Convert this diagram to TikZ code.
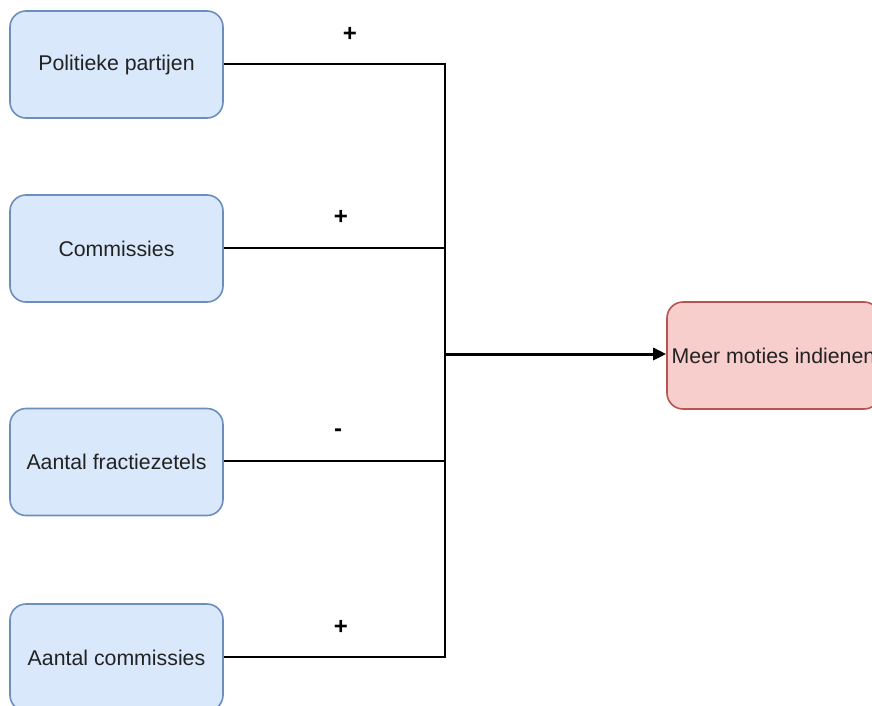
\documentclass[tikz,border=0pt]{standalone}
\usepackage{fontspec}
\setmainfont{Liberation Sans}
\usetikzlibrary{arrows.meta}
\definecolor{bluefill}{HTML}{DAE8FC}
\definecolor{bluedraw}{HTML}{6C8EBF}
\definecolor{redfill}{HTML}{F8CECC}
\definecolor{reddraw}{HTML}{B85450}
\definecolor{txt}{HTML}{222222}
\tikzset{
  srcbox/.style={draw=bluedraw, fill=bluefill, line width=1.6pt, rounded corners=16pt,
    minimum width=213pt, minimum height=107pt, inner sep=0pt, text=txt,
    font=\fontsize{21.3}{25}\selectfont},
  tgtbox/.style={draw=reddraw, fill=redfill, line width=1.6pt, rounded corners=16pt,
    minimum width=213pt, minimum height=107pt, inner sep=0pt, text=txt,
    font=\fontsize{21.3}{25}\selectfont},
  link/.style={line width=1.8pt, draw=black},
  sign/.style={font=\fontsize{24}{25}\selectfont\bfseries, inner sep=0pt, text=black}
}
\begin{document}
\begin{tikzpicture}[x=1pt, y=-1pt]
\useasboundingbox (0,0) rectangle (872,706);
\clip (0,0) rectangle (872,706);
\node[srcbox] (p) at (116.5,64.5) {Politieke partijen};
\node[srcbox] (c) at (116.5,248.5) {Commissies};
\node[srcbox] (f) at (116.5,462) {Aantal fractiezetels};
\node[srcbox] (a) at (116.5,657.5) {Aantal commissies};
\node[tgtbox] (r) at (773.5,355.5) {Meer moties indienen};
\coordinate (j1) at (445,64);
\coordinate (j2) at (445,248);
\coordinate (j3) at (445,461);
\coordinate (j4) at (445,657);
\coordinate (jm) at (445,354);
\draw[link] (p.east |- j1) -- (j1);
\draw[link] (c.east |- j2) -- (j2);
\draw[link] (f.east |- j3) -- (j3);
\draw[link] (a.east |- j4) -- (j4);
\draw[link, line cap=rect] (j1) -- (j4);
\draw[line width=3pt, -{Stealth[length=13pt,width=12pt,inset=0pt]}] (jm) -- (r.west |- jm);
\node[sign] (s1) at (350,34) {+};
\node[sign] (s2) at (341,217) {+};
\node[sign] (s3) at (338,433) {-};
\node[sign] (s4) at (341,627) {+};
\end{tikzpicture}
\end{document}
